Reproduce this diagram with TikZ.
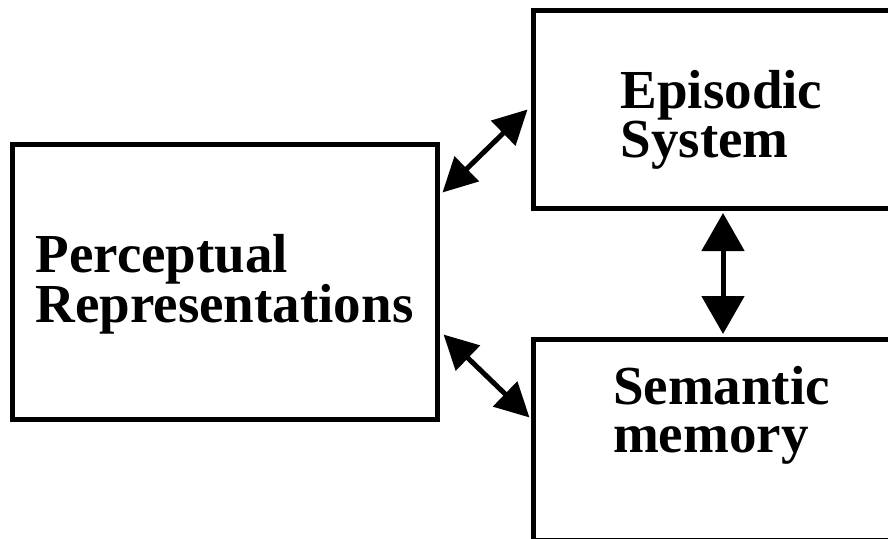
\documentclass[tikz,border=0pt]{standalone}
\usepackage{fontspec}
\setmainfont{Liberation Serif}
\usetikzlibrary{arrows.meta}
\begin{document}
\begin{tikzpicture}[x=1pt,y=-1pt,
  box/.style={draw=black, line width=5pt, inner sep=0pt},
  lbl/.style={inner sep=0pt, align=left},
  link/.style={line width=5pt, {Triangle[length=34pt,width=34pt]}-{Triangle[length=34pt,width=34pt]}},
  biglink/.style={line width=5pt, {Triangle[length=38pt,width=42pt]}-{Triangle[length=38pt,width=42pt]}}]
  \clip (0,0) rectangle (888,538);
  \fill[white] (0,0) rectangle (888,538);
  % the three stores
  \node[box, minimum width=425pt, minimum height=275pt] (perc) at (224.5,281.5) {};
  \node[box, minimum width=377pt, minimum height=198pt] (epi) at (721.5,109) {};
  \node[box, minimum width=377pt, minimum height=201pt] (sem) at (721.5,439.5) {};
  % their titles
  \node[lbl, font=\fontsize{55}{50}\selectfont\bfseries] (percText) at (224.5,284.5)
    {Perceptual\\Representations};
  \node[lbl, font=\fontsize{55}{48}\selectfont\bfseries] (epiText) at (721.5,119.5)
    {Episodic\\System};
  \node[lbl, font=\fontsize{55}{48}\selectfont\bfseries] (semText) at (721.5,415.5)
    {Semantic\\memory};
  % two-way links
  \draw[link] ([xshift=3pt,yshift=-51pt]perc.north east) -- ([xshift=-3pt,yshift=101pt]epi.south west);
  \draw[link] ([xshift=4pt,yshift=87pt]perc.south east) -- ([xshift=-1pt,yshift=-81pt]sem.north west);
  \draw[biglink] ([xshift=1.5pt,yshift=-2.5pt]epi.south) -- ([xshift=1.5pt,yshift=2.5pt]sem.north);
\end{tikzpicture}
\end{document}
